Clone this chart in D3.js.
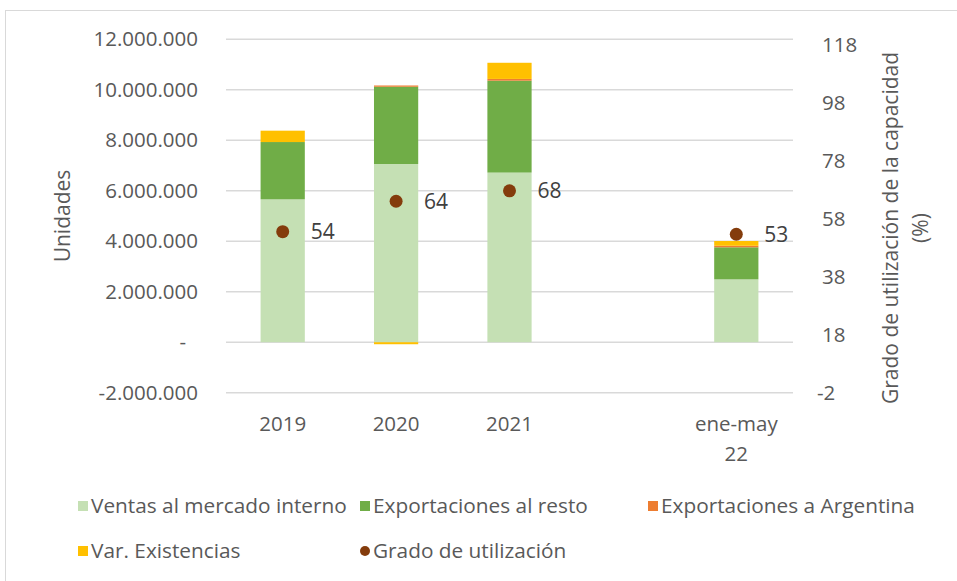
<!DOCTYPE html>
<html>
<head>
<meta charset="utf-8">
<script src="https://cdn.jsdelivr.net/npm/d3@7/dist/d3.min.js"></script>
<style>
  html, body { margin: 0; padding: 0; background: #fff; }
  svg { display: block; }
  text { font-family: "Open Sans", "Noto Sans", sans-serif; fill: #595959; }
</style>
</head>
<body>
<svg id="chart" width="957" height="581"></svg>
<script>
// ---- Data ----
const categories = ["2019", "2020", "2021", "", "ene-may 22"];
const ventasMercadoInterno = [5660000, 7060000, 6720000, null, 2490000];
const exportacionesResto   = [2270000, 3060000, 3640000, null, 1270000];
const exportacionesArgentina = [0, 50000, 70000, null, 60000];
const varExistencias       = [450000, -80000, 640000, null, 190000];
const gradoUtilizacion     = [53.6, 64.1, 67.7, null, 52.7];
const leftTicks  = [-2000000, 0, 2000000, 4000000, 6000000, 8000000, 10000000, 12000000];
const rightTicks = [-2, 18, 38, 58, 78, 98, 118];
const seriesNames = ["Ventas al mercado interno", "Exportaciones al resto", "Exportaciones a Argentina", "Var. Existencias"];
const seriesColors = ["#C5E0B4", "#70AD47", "#ED7D31", "#FFC000"];
const pointName = "Grado de utilización";
const pointColor = "#843C0C";

// ---- Setup ----
const svg = d3.select("#chart");
const plot = { left: 226, right: 793, top: 39.3, bottom: 392.7 };
const fontSize = 20.5;

// chart border
svg.append("rect").attr("x", 5.5).attr("y", 10.5).attr("width", 1000).attr("height", 1000)
  .attr("fill", "none").attr("stroke", "#D9D9D9").attr("stroke-width", 1);

const x = d3.scaleBand().domain(categories).range([plot.left, plot.right])
  .paddingInner(0.61).paddingOuter(0.305);
const y = d3.scaleLinear().domain([-2000000, 12000000]).range([plot.bottom, plot.top]);
const y2 = d3.scaleLinear().domain([-2, 120]).range([plot.bottom, plot.top]);

const loc = d3.formatLocale({ decimal: ",", thousands: ".", grouping: [3], currency: ["$", ""], minus: "-" });
const fmtLeft = v => v === 0 ? "-" : loc.format(",.0f")(v);
const fmtRight = loc.format("d");

// gridlines
svg.append("g").selectAll("line").data(leftTicks).join("line")
  .attr("x1", plot.left).attr("x2", plot.right)
  .attr("y1", d => y(d)).attr("y2", d => y(d))
  .attr("stroke", "#D9D9D9").attr("stroke-width", 1.5);

// left axis
const leftAxis = d3.axisLeft(y).tickValues(leftTicks).tickFormat(fmtLeft).tickSize(0).tickPadding(28);
const gL = svg.append("g").attr("transform", `translate(${plot.left},0)`).call(leftAxis);
gL.select(".domain").remove();
gL.selectAll("text").style("font-size", fontSize + "px").attr("fill", "#595959")
  .attr("dx", d => d === 0 ? -12 : 0);

// right axis
const rightAxis = d3.axisRight(y2).tickValues(rightTicks).tickFormat(fmtRight).tickSize(0).tickPadding(29);
const gR = svg.append("g").attr("transform", `translate(${plot.right},0)`).call(rightAxis);
gR.select(".domain").remove();
gR.selectAll("text").style("font-size", fontSize + "px").attr("fill", "#595959")
  .attr("dx", d => d < 0 ? -5 : 0);

// stacked bars
const rows = categories.map((c, i) => ({
  cat: c,
  s0: ventasMercadoInterno[i], s1: exportacionesResto[i], s2: exportacionesArgentina[i], s3: varExistencias[i]
})).filter(r => r.s0 !== null);
const stack = d3.stack().keys(["s0", "s1", "s2", "s3"]).offset(d3.stackOffsetDiverging);
const stacked = stack(rows);
svg.append("g").selectAll("g").data(stacked).join("g")
  .attr("fill", (d, i) => seriesColors[i])
  .selectAll("rect").data(d => d).join("rect")
  .attr("x", d => x(d.data.cat))
  .attr("width", x.bandwidth())
  .attr("y", d => y(Math.max(d[0], d[1])))
  .attr("height", d => Math.abs(y(d[0]) - y(d[1])));

// points
const pts = categories.map((c, i) => ({ cat: c, v: gradoUtilizacion[i] })).filter(d => d.v !== null);
svg.append("g").selectAll("circle").data(pts).join("circle")
  .attr("cx", d => x(d.cat) + x.bandwidth() / 2)
  .attr("cy", d => y2(d.v))
  .attr("r", 6.5).attr("fill", pointColor);
svg.append("g").selectAll("text").data(pts).join("text")
  .attr("x", d => x(d.cat) + x.bandwidth() / 2 + 28)
  .attr("y", d => y2(d.v))
  .attr("dy", "0.35em")
  .style("font-size", "21px").style("fill", "#404040")
  .text(d => d3.format(".0f")(d.v));

// x axis labels
const xl = svg.append("g").selectAll("text").data(categories).join("text")
  .attr("x", d => x(d) + x.bandwidth() / 2)
  .attr("y", 431)
  .attr("text-anchor", "middle")
  .style("font-size", fontSize + "px");
xl.each(function(d) {
  const parts = d.split(" ");
  d3.select(this).selectAll("tspan").data(parts).join("tspan")
    .attr("x", x(d) + x.bandwidth() / 2)
    .attr("dy", (p, i) => i === 0 ? 0 : 30)
    .text(p => p);
});

// axis titles
svg.append("text")
  .attr("transform", `translate(70,${(plot.top + plot.bottom) / 2}) rotate(-90)`)
  .attr("text-anchor", "middle")
  .style("font-size", "21px")
  .text("Unidades");
const rt = svg.append("text")
  .attr("transform", `translate(898,228) rotate(-90)`)
  .attr("text-anchor", "middle")
  .style("font-size", "21px");
rt.append("tspan").attr("x", 0).attr("dy", 0).text("Grado de utilización de la capacidad");
rt.append("tspan").attr("x", 0).attr("dy", 30).text("(%)");

// legend
const legendItems = [
  { name: seriesNames[0], color: seriesColors[0], type: "rect", x: 78, y: 506 },
  { name: seriesNames[1], color: seriesColors[1], type: "rect", x: 360, y: 506 },
  { name: seriesNames[2], color: seriesColors[2], type: "rect", x: 648, y: 506 },
  { name: seriesNames[3], color: seriesColors[3], type: "rect", x: 78, y: 551 },
  { name: pointName, color: pointColor, type: "circle", x: 360, y: 551 }
];
const lg = svg.append("g").selectAll("g").data(legendItems).join("g")
  .attr("transform", d => `translate(${d.x},${d.y})`);
lg.filter(d => d.type === "rect").append("rect")
  .attr("x", 0).attr("y", -5).attr("width", 10).attr("height", 10).attr("fill", d => d.color);
lg.filter(d => d.type === "circle").append("circle")
  .attr("cx", 5).attr("cy", 0).attr("r", 5).attr("fill", d => d.color);
lg.append("text").attr("x", 13).attr("dy", "0.35em")
  .style("font-size", "20.8px").text(d => d.name);
</script>
</body>
</html>
